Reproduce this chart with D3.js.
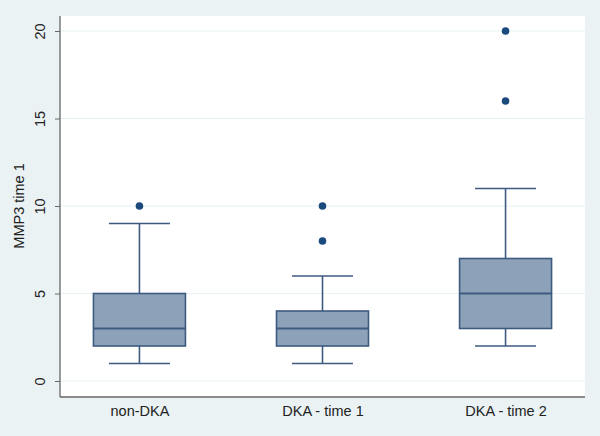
<!DOCTYPE html>
<html>
<head>
<meta charset="utf-8">
<script src="https://cdn.jsdelivr.net/npm/d3@7"></script>
<style>
html,body{margin:0;padding:0;background:#eaf2f4;}
svg{display:block;font-family:"Liberation Sans",Arial,sans-serif;}
</style>
</head>
<body>
<script>
const categories = ["non-DKA", "DKA - time 1", "DKA - time 2"];
const whiskerLow  = [1, 1, 2];
const q1          = [2, 2, 3];
const median      = [3, 3, 5];
const q3          = [5, 4, 7];
const whiskerHigh = [9, 6, 11];
const outliers    = [[10], [8, 10], [16, 20]];
const yTicks = [0, 5, 10, 15, 20];
const yLabel = "MMP3 time 1";

const W = 600, H = 436;
const plot = {left: 60, right: 585, top: 16, bottom: 397};
const fs = 14.5;
const svg = d3.select("body").append("svg").attr("width", W).attr("height", H);

svg.append("rect").attr("width", W).attr("height", H).attr("fill", "#eaf2f4");
svg.append("rect").attr("x", plot.left).attr("y", plot.top)
  .attr("width", plot.right - plot.left).attr("height", plot.bottom - plot.top)
  .attr("fill", "#ffffff");

const x = d3.scalePoint().domain(categories).range([plot.left, plot.right]).padding(0.434);
const y = d3.scaleLinear().domain([0, 20]).range([381, 31]);

// grid
svg.append("g").selectAll("line").data(yTicks).join("line")
  .attr("x1", plot.left).attr("x2", plot.right)
  .attr("y1", d => y(d)).attr("y2", d => y(d))
  .attr("stroke", "#e8f1f3").attr("stroke-width", 1.2);

// y axis
const yAxis = svg.append("g").attr("transform", `translate(${plot.left},0)`)
  .call(d3.axisLeft(y).tickValues(yTicks).tickSize(5).tickPadding(6));
yAxis.select(".domain").attr("d", `M0,${plot.top}V${plot.bottom}`).attr("stroke", "#666").attr("stroke-width", 1.3);
yAxis.selectAll(".tick line").attr("stroke", "#666");
yAxis.selectAll(".tick text")
  .attr("fill", "#222").attr("font-size", fs)
  .attr("transform", "rotate(-90)")
  .attr("x", 0).attr("y", -20).attr("dy", "0.35em")
  .attr("text-anchor", "middle");

// x axis
const xAxis = svg.append("g").attr("transform", `translate(0,${plot.bottom})`)
  .call(d3.axisBottom(x).tickSize(0).tickPadding(9));
xAxis.select(".domain").attr("d", `M${plot.left},0H${plot.right}`).attr("stroke", "#666").attr("stroke-width", 1.3);
xAxis.selectAll(".tick text").attr("fill", "#222").attr("font-size", fs).attr("dy", "0.71em");

// y label
svg.append("text").attr("transform", `translate(19,${(y(0)+y(20))/2}) rotate(-90)`)
  .attr("text-anchor", "middle").attr("dy", "0.35em").attr("font-size", fs).attr("fill", "#222").text(yLabel);

const boxW = 92, capW = 61;
const stroke = "#3d5a80", fill = "#8da2b8";
const data = categories.map((c, i) => ({c, lo: whiskerLow[i], q1: q1[i], md: median[i], q3: q3[i], hi: whiskerHigh[i], out: outliers[i]}));

const g = svg.append("g").selectAll("g").data(data).join("g")
  .attr("transform", d => `translate(${x(d.c)},0)`);

g.append("line").attr("x1", 0).attr("x2", 0).attr("y1", d => y(d.hi)).attr("y2", d => y(d.q3))
  .attr("stroke", stroke).attr("stroke-width", 1.6);
g.append("line").attr("x1", 0).attr("x2", 0).attr("y1", d => y(d.q1)).attr("y2", d => y(d.lo))
  .attr("stroke", stroke).attr("stroke-width", 1.6);
g.append("line").attr("x1", -capW/2).attr("x2", capW/2).attr("y1", d => y(d.hi)).attr("y2", d => y(d.hi))
  .attr("stroke", stroke).attr("stroke-width", 1.6);
g.append("line").attr("x1", -capW/2).attr("x2", capW/2).attr("y1", d => y(d.lo)).attr("y2", d => y(d.lo))
  .attr("stroke", stroke).attr("stroke-width", 1.6);
g.append("rect").attr("x", -boxW/2).attr("width", boxW)
  .attr("y", d => y(d.q3)).attr("height", d => y(d.q1) - y(d.q3))
  .attr("fill", fill).attr("stroke", stroke).attr("stroke-width", 1.6);
g.append("line").attr("x1", -boxW/2).attr("x2", boxW/2).attr("y1", d => y(d.md)).attr("y2", d => y(d.md))
  .attr("stroke", stroke).attr("stroke-width", 1.8);
g.selectAll("circle").data(d => d.out).join("circle")
  .attr("cx", 0).attr("cy", d => y(d)).attr("r", 3.8).attr("fill", "#1b4a7e");
</script>
</body>
</html>
